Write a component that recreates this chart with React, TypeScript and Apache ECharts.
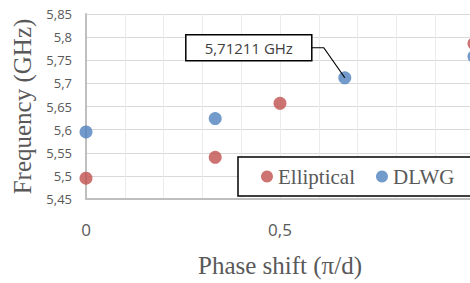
import React, { useEffect, useRef } from "react";
import * as echarts from "echarts";

// Data
const ellipticalX = [0, 0.333, 0.5, 1];
const ellipticalY = [5.495, 5.54, 5.657, 5.786];
const dlwgX = [0, 0.333, 0.667, 1];
const dlwgY = [5.595, 5.624, 5.71211, 5.758];
const seriesNames = ["Elliptical", "DLWG"];
const annotationIndex = 2;
const annotationText = "5,71211 GHz";
const xTickLabels: Record<string, string> = { "0": "0", "0.5": "0,5" };

const fmtComma = (v: number) => String(Math.round(v * 100) / 100).replace(".", ",");

export default function App() {
  const ref = useRef<HTMLDivElement>(null);
  useEffect(() => {
    if (!ref.current) return;
    const chart = echarts.init(ref.current, undefined, { renderer: "svg" });
    chart.setOption({
      animation: false,
      backgroundColor: "#ffffff",
      grid: { left: 86, top: 14, right: 26, bottom: 83 },
      xAxis: {
        type: "value",
        min: 0,
        max: 1,
        interval: 0.1,
        name: "Phase shift (π/d)",
        nameLocation: "middle",
        nameGap: 54,
        nameTextStyle: { fontFamily: "Liberation Serif", fontSize: 25, color: "#595959" },
        axisLine: { show: true, lineStyle: { color: "#BFBFBF", width: 2 } },
        axisTick: { show: false },
        axisLabel: {
          margin: 22,
          fontFamily: "Open Sans",
          fontSize: 17,
          color: "#595959",
          formatter: (v: number) => {
            const k = String(Math.round(v * 10) / 10);
            return xTickLabels[k] ?? "";
          },
        },
        splitLine: { show: true, lineStyle: { color: "#EBEBEB", width: 1 } },
      },
      yAxis: {
        type: "value",
        min: 5.45,
        max: 5.85,
        interval: 0.05,
        name: "Frequency (GHz)",
        nameLocation: "middle",
        nameGap: 51,
        nameTextStyle: { fontFamily: "Liberation Serif", fontSize: 25, color: "#595959" },
        axisLine: { show: true, lineStyle: { color: "#BFBFBF", width: 2 } },
        axisTick: { show: false },
        axisLabel: {
          margin: 14,
          fontFamily: "Open Sans",
          fontSize: 13,
          color: "#595959",
          formatter: (v: number) => fmtComma(v),
        },
        splitLine: { show: true, lineStyle: { color: "#D9D9D9", width: 1 } },
      },
      legend: {
        left: 238,
        top: 157,
        orient: "horizontal",
        icon: "circle",
        itemWidth: 12,
        itemHeight: 12,
        itemGap: 21,
        padding: [9, 40, 9, 23],
        backgroundColor: "#ffffff",
        borderColor: "#000000",
        borderWidth: 1.5,
        borderRadius: 0,
        textStyle: { fontFamily: "Liberation Serif", fontSize: 21, color: "#595959" },
        data: seriesNames,
      },
      series: [
        {
          name: seriesNames[0],
          type: "scatter",
          symbolSize: 13,
          itemStyle: { color: "#C0504D" },
          data: ellipticalX.map((x, i) => [x, ellipticalY[i]]),
        },
        {
          name: seriesNames[1],
          type: "scatter",
          symbolSize: 13,
          itemStyle: { color: "#4F81BD" },
          data: dlwgX.map((x, i) => [x, dlwgY[i]]),
        },
      ],
    });
    const p = chart.convertToPixel({ gridIndex: 0 }, [dlwgX[annotationIndex], dlwgY[annotationIndex]]) as number[];
    const bx = p[0] - 159;
    const by = p[1] - 43;
    chart.setOption({
      graphic: [
        {
          type: "polyline",
          z: 100,
          shape: { points: [[p[0] - 33, p[1] - 30], [p[0] - 21, p[1] - 30], [p[0], p[1]]] },
          style: { stroke: "#000000", lineWidth: 1.2, fill: null },
        },
        {
          type: "rect",
          z: 101,
          shape: { x: bx, y: by, width: 126, height: 26 },
          style: { fill: "#ffffff", stroke: "#000000", lineWidth: 1.5 },
        },
        {
          type: "text",
          z: 102,
          style: {
            text: annotationText,
            x: bx + 63,
            y: by + 13,
            align: "center",
            verticalAlign: "middle",
            font: "15px 'Open Sans'",
            fill: "#404040",
          },
        },
      ],
    });
    return () => chart.dispose();
  }, []);
  return (
    <div style={{ position: "fixed", left: 0, top: 0, width: 470, height: 283, overflow: "hidden", background: "#fff" }}>
      <div ref={ref} style={{ width: 500, height: 283 }} />
    </div>
  );
}
